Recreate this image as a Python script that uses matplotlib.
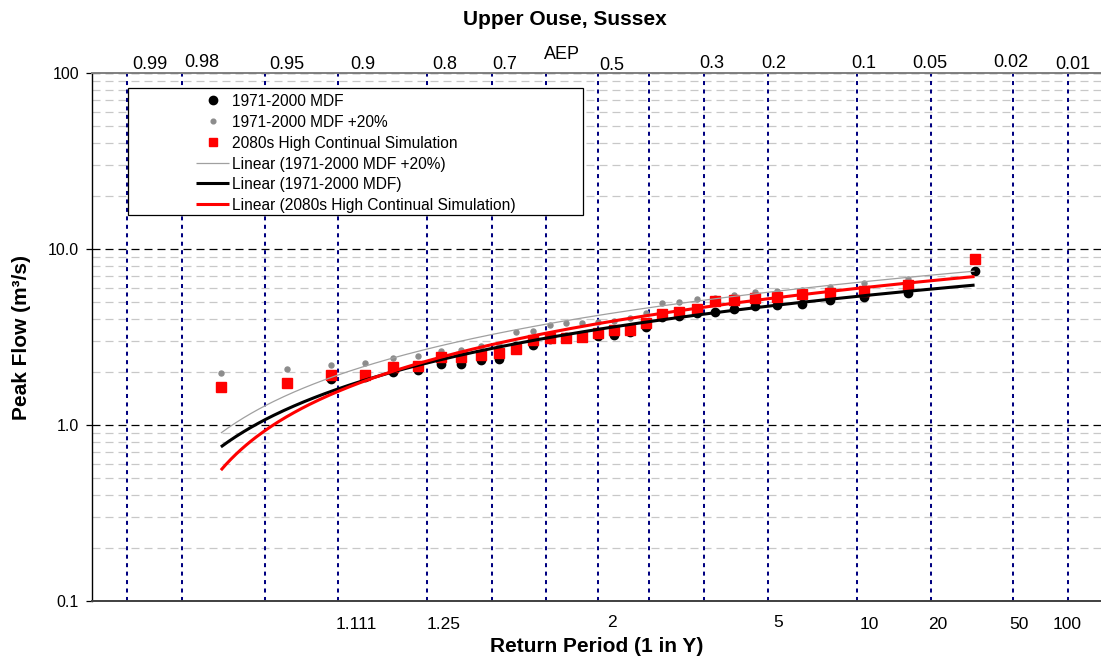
import matplotlib
matplotlib.use("Agg")
import matplotlib.pyplot as plt
from matplotlib.lines import Line2D
from matplotlib.patches import Rectangle
from matplotlib.ticker import LogLocator, NullFormatter, FixedLocator, FixedFormatter
from statistics import NormalDist
import numpy as np

plt.rcParams['font.family'] = ['Liberation Sans', 'DejaVu Sans']

# ---------------- data ----------------
# annual exceedance probability (plotting position) of each ranked event
aep_points = [0.96875, 0.93750, 0.90625, 0.87500, 0.84375, 0.81250, 0.78125, 0.75000,
              0.71875, 0.68750, 0.65625, 0.62500, 0.59375, 0.56250, 0.53125, 0.50000,
              0.46875, 0.43750, 0.40625, 0.37500, 0.34375, 0.31250, 0.28125, 0.25000,
              0.21875, 0.18750, 0.15625, 0.12500, 0.09375, 0.06250, 0.03125]
mdf_1971_2000 = [1.65, 1.74, 1.82, 1.88, 2.00, 2.05, 2.21, 2.22, 2.34, 2.37, 2.80,
                 2.85, 3.07, 3.15, 3.18, 3.20, 3.25, 3.38, 3.61, 4.09, 4.16, 4.34,
                 4.40, 4.59, 4.73, 4.81, 4.87, 5.10, 5.34, 5.59, 7.50]
mdf_plus20 = [1.98, 2.09, 2.18, 2.26, 2.40, 2.46, 2.65, 2.66, 2.81, 2.84, 3.36,
              3.42, 3.68, 3.78, 3.82, 3.84, 3.90, 4.06, 4.33, 4.91, 4.99, 5.21,
              5.28, 5.51, 5.68, 5.77, 5.84, 6.12, 6.41, 6.71, 9.00]
sim_2080s = [1.64, 1.74, 1.92, 1.92, 2.14, 2.15, 2.42, 2.43, 2.50, 2.57, 2.69,
             3.04, 3.11, 3.12, 3.18, 3.32, 3.47, 3.48, 3.78, 4.26, 4.40, 4.59,
             5.06, 5.15, 5.29, 5.36, 5.55, 5.60, 5.80, 6.25, 8.77]

aep_grid = [0.99, 0.98, 0.95, 0.9, 0.8, 0.7, 0.6, 0.5, 0.4, 0.3, 0.2, 0.1, 0.05, 0.02, 0.01]
aep_labels = ['0.99', '0.98', '0.95', '0.9', '0.8', '0.7', 'AEP', '0.5', '', '0.3',
              '0.2', '0.1', '0.05', '0.02', '0.01']
rp_aep = [0.9, 0.8, 0.5, 0.2, 0.1, 0.05, 0.02, 0.01]
rp_labels = ['1.111', '1.25', '2', '5', '10', '20', '50', '100']
y_ticks = [0.1, 1, 10, 100]
y_ticklabels = ['0.1', '1.0', '10.0', '100']

series_names = ['1971-2000 MDF', '1971-2000 MDF +20%', '2080s High Continual Simulation']
title = 'Upper Ouse, Sussex'
xlabel = 'Return Period (1 in Y)'
ylabel = 'Peak Flow (m\u00b3/s)'

# ---------------- styling / layout ----------------
W, H = 1101, 666
top_dx = [23, 20, 22, 24, 17, 13, 15, 14, 0, 8, 6, 7, -1, -2, 4]      # px
top_cy = [63, 61, 63, 63, 63, 63, 53, 64, 63, 62, 62, 62, 62, 61, 63]  # px (label centre)
bot_dx = [18, 16, 14, 10, 12, 7, 6, -1]                                # px
bot_cy = [623, 623, 621, 621, 623, 623, 623, 623]

nd = NormalDist()
def to_z(aep):
    return np.array([nd.inv_cdf(1.0 - a) for a in np.atleast_1d(aep)])

fig = plt.figure(figsize=(W / 100, H / 100), dpi=100)
ax_left, ax_bottom, ax_top = 92, 601, 73
px_per_z = 202.3
xmin, xmax = -2.5, 2.5
ax = fig.add_axes([ax_left / W, (H - ax_bottom) / H,
                   (xmax - xmin) * px_per_z / W, (ax_bottom - ax_top) / H])
ax.set_xlim(xmin, xmax)
ax.set_yscale('log')
ax.set_ylim(0.1, 100)

# horizontal grid
ax.yaxis.set_major_locator(FixedLocator(y_ticks))
ax.yaxis.set_major_formatter(FixedFormatter(y_ticklabels))
ax.yaxis.set_minor_locator(LogLocator(base=10, subs=np.arange(2, 10)))
ax.yaxis.set_minor_formatter(NullFormatter())
ax.grid(which='minor', axis='y', color='#c8c8c8', linestyle=(0, (6.4, 4)), linewidth=0.9, zorder=0)
ax.grid(which='major', axis='y', color='black', linestyle=(0, (6.4, 4)), linewidth=0.9, zorder=0)
ax.set_axisbelow(True)
ax.tick_params(axis='y', which='major', direction='out', length=4.3, width=0.9,
               pad=5, labelsize=11.5, left=True, right=False)
ax.tick_params(axis='y', which='minor', length=0)
ax.set_xticks([])

ax.spines['right'].set_visible(False)
ax.spines['left'].set_color('black')
ax.spines['left'].set_linewidth(1.0)
ax.spines['bottom'].set_color('#404040')
ax.spines['bottom'].set_linewidth(1.4)
ax.spines['top'].set_color('#808080')
ax.spines['top'].set_linewidth(1.4)

# vertical AEP lines
for a in aep_grid:
    ax.axvline(to_z(a)[0], color='#000080', linestyle=(0, (2.0, 2.2)), linewidth=1.45, zorder=1)

# data
z = to_z(aep_points)
ax.plot(z, mdf_1971_2000, linestyle='none', marker='o', ms=6, color='black', zorder=3)
ax.plot(z, mdf_plus20, linestyle='none', marker='o', ms=3.6, color='#8c8c8c', zorder=3)
ax.plot(z, sim_2080s, linestyle='none', marker='s', ms=6.6, color='#ff0000', zorder=3)

# linear trendlines (fitted in the plotted x space)
zz = np.linspace(z.min(), z.max(), 300)
for vals, col, lw in [(mdf_plus20, '#a0a0a0', 0.9), (mdf_1971_2000, 'black', 2.2),
                      (sim_2080s, '#ff0000', 2.2)]:
    coef = np.polyfit(z, np.array(vals), 1)
    ax.plot(zz, np.polyval(coef, zz), color=col, lw=lw, zorder=4, solid_capstyle='butt')

# top AEP labels
for a, lab, dx, cy in zip(aep_grid, aep_labels, top_dx, top_cy):
    if not lab:
        continue
    fs = 13
    cap = 0.716 * fs / 0.72
    base_up = ax_top - (cy + cap / 2)
    ax.annotate(lab, xy=(to_z(a)[0], 1), xycoords=('data', 'axes fraction'),
                xytext=(dx * 0.72, base_up * 0.72), textcoords='offset points',
                ha='center', va='baseline', fontsize=fs, annotation_clip=False)

# bottom return period labels
for a, lab, dx, cy in zip(rp_aep, rp_labels, bot_dx, bot_cy):
    fs = 12.5
    cap = 0.716 * fs / 0.72
    base_down = (cy + cap / 2) - ax_bottom
    ax.annotate(lab, xy=(to_z(a)[0], 0), xycoords=('data', 'axes fraction'),
                xytext=(dx * 0.72, -base_down * 0.72), textcoords='offset points',
                ha='center', va='baseline', fontsize=fs, annotation_clip=False)

# titles
fig.text(565 / W, 1 - 25 / H, title, ha='center', va='baseline', fontsize=15, fontweight='bold')
fig.text(597 / W, 1 - 652 / H, xlabel, ha='center', va='baseline', fontsize=15, fontweight='bold')
fig.text(22 / W, 1 - 337 / H, ylabel, ha='center', va='center', rotation=90,
         fontsize=15, fontweight='bold')

# legend (drawn as a box of samples)
def fx(p):
    return p / W
def fy(p):
    return 1 - p / H

fig.add_artist(Rectangle((fx(128), fy(215)), (583 - 128) / W, (215 - 88) / H,
                         transform=fig.transFigure, facecolor='white', edgecolor='black',
                         linewidth=0.9, zorder=5))
rows = [100, 121, 142, 163, 183, 204]
entries = [
    dict(kind='marker', marker='o', ms=6, color='black', label=series_names[0]),
    dict(kind='marker', marker='o', ms=3.4, color='#8c8c8c', label=series_names[1]),
    dict(kind='marker', marker='s', ms=6.4, color='#ff0000', label=series_names[2]),
    dict(kind='line', lw=0.9, color='#a0a0a0', label='Linear (' + series_names[1] + ')'),
    dict(kind='line', lw=2.2, color='black', label='Linear (' + series_names[0] + ')'),
    dict(kind='line', lw=2.2, color='#ff0000', label='Linear (' + series_names[2] + ')'),
]
for ry, e in zip(rows, entries):
    if e['kind'] == 'marker':
        fig.add_artist(Line2D([fx(213)], [fy(ry)], transform=fig.transFigure, linestyle='none',
                              marker=e['marker'], ms=e['ms'], color=e['color'], zorder=6))
    else:
        fig.add_artist(Line2D([fx(196), fx(229)], [fy(ry), fy(ry)], transform=fig.transFigure,
                              lw=e['lw'], color=e['color'], zorder=6, solid_capstyle='butt'))
    fig.text(fx(232), fy(ry), e['label'], ha='left', va='center_baseline', fontsize=11.2, zorder=7)

fig.savefig('out.png', dpi=100)
